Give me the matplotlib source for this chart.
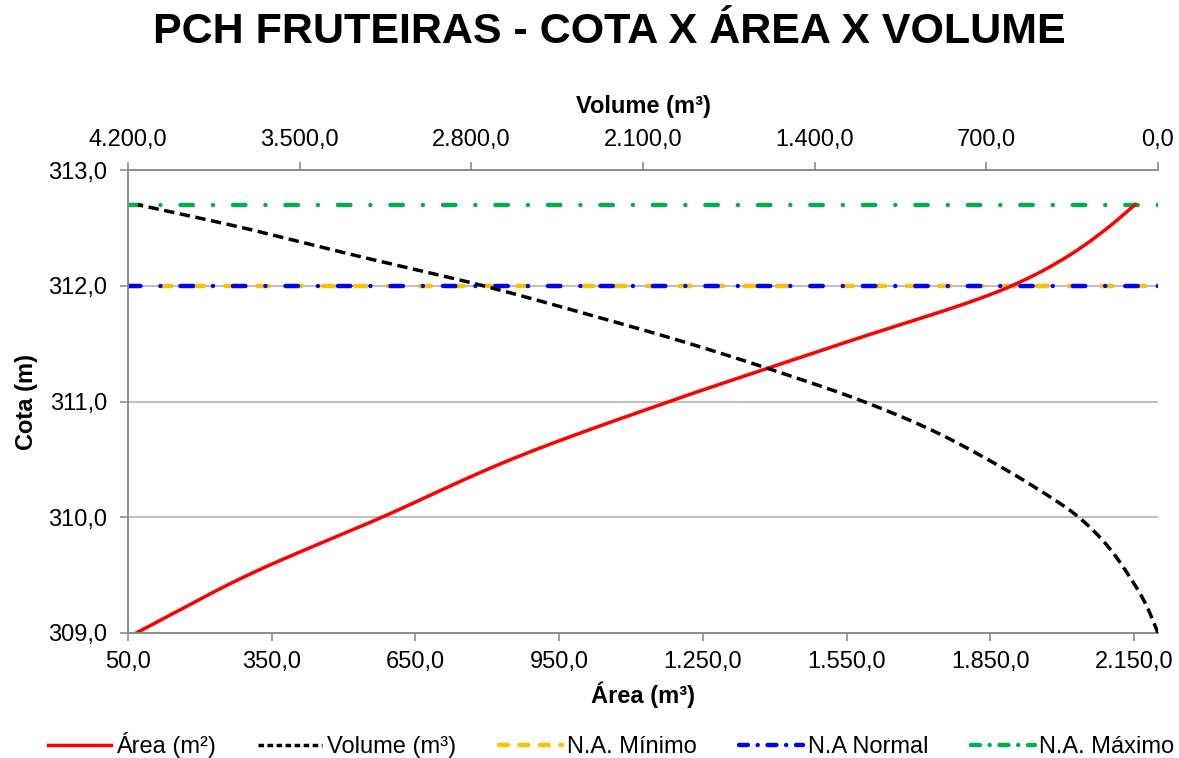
import matplotlib
matplotlib.use("Agg")
import matplotlib.pyplot as plt
from matplotlib.ticker import FuncFormatter, FixedLocator
from matplotlib.lines import Line2D
import numpy as np

plt.rcParams['font.family'] = ['Liberation Sans', 'DejaVu Sans']

# ---- data ----
cota_area = [309.0, 309.5, 310.0, 310.5, 311.0, 311.5, 312.0, 312.25, 312.5, 312.7]
area = [67, 300, 580, 850, 1180, 1540, 1895, 2010, 2095, 2152]

cota_vol = [309.0, 309.25, 309.5, 309.75, 310.0, 310.25, 310.5, 310.75, 311.0, 311.25, 311.5, 311.75, 312.0, 312.25, 312.5, 312.7]
volume = [0, 50, 120, 205, 323, 495, 695, 920, 1201, 1540, 1910, 2320, 2752, 3250, 3730, 4160]

na_minimo = 312.0
na_normal = 312.0
na_maximo = 312.7

area_ticks = [50, 350, 650, 950, 1250, 1550, 1850, 2150]
vol_ticks = [4200, 3500, 2800, 2100, 1400, 700, 0]
cota_ticks = [309, 310, 311, 312, 313]

labels = ['Área (m²)', 'Volume (m³)', 'N.A. Mínimo', 'N.A Normal', 'N.A. Máximo']

def br(v, pos=None):
    s = f"{v:,.1f}"
    return s.replace(',', 'X').replace('.', ',').replace('X', '.')

def pchip(xk, yk, n=400):
    xk = np.asarray(xk, float); yk = np.asarray(yk, float)
    h = np.diff(xk); d = np.diff(yk) / h
    m = np.zeros_like(yk)
    for k in range(1, len(xk)-1):
        if d[k-1]*d[k] > 0:
            w1 = 2*h[k] + h[k-1]; w2 = h[k] + 2*h[k-1]
            m[k] = (w1 + w2) / (w1/d[k-1] + w2/d[k])
    m[0] = d[0]; m[-1] = d[-1]
    xs = np.linspace(xk[0], xk[-1], n)
    idx = np.clip(np.searchsorted(xk, xs) - 1, 0, len(h)-1)
    t = (xs - xk[idx]) / h[idx]
    h00 = 2*t**3 - 3*t**2 + 1; h10 = t**3 - 2*t**2 + t
    h01 = -2*t**3 + 3*t**2; h11 = t**3 - t**2
    ys = h00*yk[idx] + h10*h[idx]*m[idx] + h01*yk[idx+1] + h11*h[idx]*m[idx+1]
    return xs, ys

W, H = 1179, 758
fig = plt.figure(figsize=(W/100, H/100), dpi=100)
ax = fig.add_axes([128/W, 1-633/H, (1158-128)/W, (633-170)/H])

gray = '#8c8c8c'
ax.set_xlim(50, 2200)
ax.set_ylim(309, 313)

ax2 = ax.twiny()
ax2.set_xlim(4200, 0)
ax2.set_ylim(309, 313)

# horizontal reference lines
xs_h = [50, 2200]
ax.plot(xs_h, [na_minimo]*2, color='#FFC000', lw=3.2, dashes=(2.5, 4.8),
        dash_capstyle='round', zorder=3)
ax.plot(xs_h, [na_normal]*2, color='#0000FF', lw=3.2, dashes=(2.8, 4.5, 0.01, 4.5),
        dash_capstyle='round', zorder=4)
ax.plot(xs_h, [na_maximo]*2, color='#00B050', lw=3.2, dashes=(2.8, 4.5, 0.01, 4.5),
        dash_capstyle='round', zorder=4)

cy, vx = pchip(cota_vol, volume)
ax2.plot(vx, cy, color='black', lw=2.5, dashes=(3, 1.6), zorder=5)
cy, axx = pchip(cota_area, area)
ax.plot(axx, cy, color='#FF0000', lw=2.5, zorder=6)

# ticks & grid
ax.xaxis.set_major_locator(FixedLocator(area_ticks))
ax.yaxis.set_major_locator(FixedLocator(cota_ticks))
ax2.xaxis.set_major_locator(FixedLocator(vol_ticks))
ax.xaxis.set_major_formatter(FuncFormatter(br))
ax.yaxis.set_major_formatter(FuncFormatter(br))
ax2.xaxis.set_major_formatter(FuncFormatter(br))
ax.grid(axis='y', color='#b3b3b3', lw=1.2)
ax.set_axisbelow(True)
for a in (ax, ax2):
    a.tick_params(axis='both', which='major', direction='out', length=6, width=1.2,
                  color=gray, labelsize=17, pad=6, labelcolor='black')
    for s in a.spines.values():
        s.set_color(gray); s.set_linewidth(1.2)
    a.spines['right'].set_visible(False)
ax.tick_params(axis='y', pad=9)
ax.tick_params(axis='x', pad=7)
ax2.tick_params(axis='x', pad=8)

ax.set_xlabel('Área (m³)', fontsize=17, fontweight='bold', labelpad=6)
ax.set_ylabel('Cota (m)', fontsize=17, fontweight='bold', labelpad=7)
ax2.set_xlabel('Volume (m³)', fontsize=17, fontweight='bold', labelpad=11)

fig.text(609/W, 1-32/H, 'PCH FRUTEIRAS - COTA X ÁREA X VOLUME', fontsize=31,
         fontweight='bold', ha='center', va='center')

handles = [
    Line2D([], [], color='#FF0000', lw=2.5),
    Line2D([], [], color='black', lw=2.5, dashes=(1.6, 1.0)),
    Line2D([], [], color='#FFC000', lw=3.2, dashes=(2.0, 2.6), dash_capstyle='round'),
    Line2D([], [], color='#0000FF', lw=3.2, dashes=(2.0, 2.2, 0.01, 2.2), dash_capstyle='round'),
    Line2D([], [], color='#00B050', lw=3.2, dashes=(2.0, 2.2, 0.01, 2.2), dash_capstyle='round'),
]
fig.legend(handles, labels, loc='center', bbox_to_anchor=(611/W, 1-745/H), ncol=5,
           frameon=False, fontsize=17, handlelength=2.7, handletextpad=0.2,
           columnspacing=1.8, borderaxespad=0, borderpad=0)

fig.savefig('out.png', dpi=100)
